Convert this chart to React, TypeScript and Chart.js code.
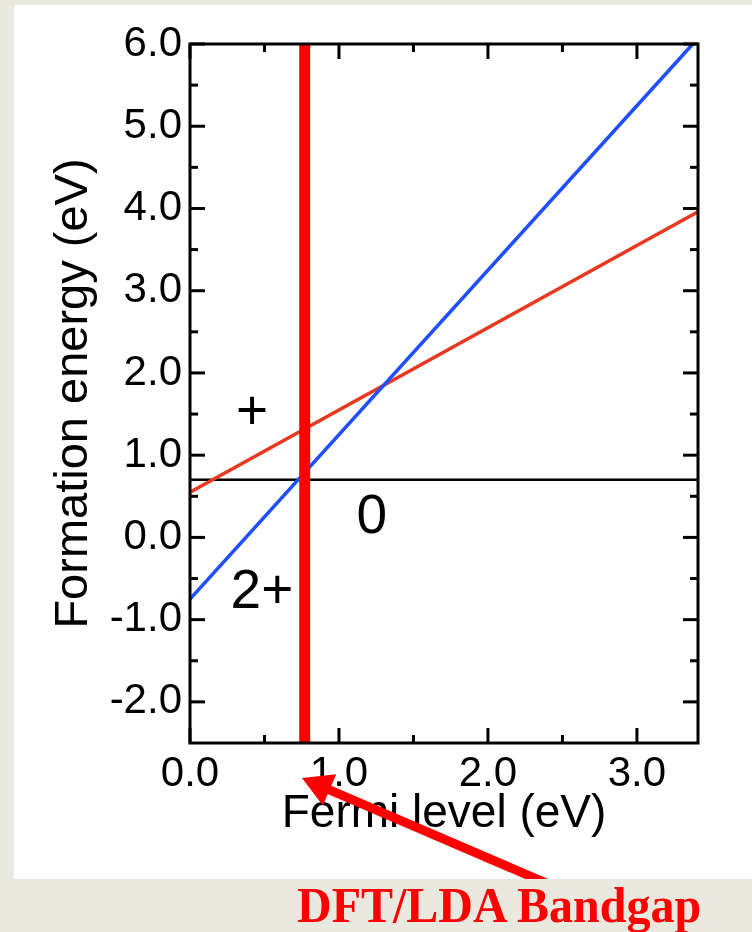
import React, { useEffect, useRef } from "react";
import { Chart, registerables } from "chart.js";

Chart.register(...registerables);

// ---- data ----
const X_MIN = 0;
const X_MAX = 3.41;
const Y_MIN = -2.5;
const Y_MAX = 6.0;

const xMajorTicks = [0, 1, 2, 3];
const xMinorTicks = [0.5, 1.5, 2.5];
const yMajorTicks = [-2, -1, 0, 1, 2, 3, 4, 5, 6];
const yMinorTicks = [-1.5, -0.5, 0.5, 1.5, 2.5, 3.5, 4.5, 5.5];

// 2+ charge state (blue)
const blueX = [0, 3.375];
const blueY = [-0.75, 6.0];
// + charge state (red)
const redX = [0, 3.41];
const redY = [0.55, 3.96];
// neutral 0 state (black)
const neutralX = [0, 3.41];
const neutralY = [0.7, 0.7];
// DFT/LDA band gap marker
const gapX = [0.77, 0.77];
const gapY = [-2.5, 6.0];

// charge-state labels
const chargeLabels = ["+", "0", "2+"];
const chargeLabelX = [0.416, 1.221, 0.483];
const chargeLabelY = [1.32, 0.055, -0.858];

const xTitle = "Fermi level (eV)";
const yTitle = "Formation energy (eV)";
const annotation = "DFT/LDA Bandgap";

const SANS = "'Liberation Sans', Arial, Helvetica, sans-serif";

const pts = (xs: number[], ys: number[]) => xs.map((x, i) => ({ x, y: ys[i] }));

const framePlugin = {
  id: "frameTicks",
  afterDatasetsDraw(chart: any) {
    const { ctx, scales } = chart;
    const xs = scales.x;
    const ys = scales.y;
    ctx.save();
    ctx.fillStyle = "#000";
    ctx.font = `55px ${SANS}`;
    ctx.textAlign = "center";
    ctx.textBaseline = "alphabetic";
    chargeLabels.forEach((t, i) => {
      ctx.fillText(t, xs.getPixelForValue(chargeLabelX[i]), ys.getPixelForValue(chargeLabelY[i]));
    });
    ctx.restore();
  },
  afterDraw(chart: any) {
    const { ctx, chartArea, scales } = chart;
    const { left, right, top, bottom } = chartArea;
    const xs = scales.x;
    const ys = scales.y;
    ctx.save();
    ctx.strokeStyle = "#000";
    ctx.lineWidth = 3;
    ctx.lineCap = "butt";
    const MAJ = 15;
    const MIN = 8;
    const tick = (x1: number, y1: number, x2: number, y2: number) => {
      ctx.beginPath();
      ctx.moveTo(x1, y1);
      ctx.lineTo(x2, y2);
      ctx.stroke();
    };
    xMajorTicks.forEach((v) => {
      const p = xs.getPixelForValue(v);
      tick(p, bottom, p, bottom - MAJ);
      tick(p, top, p, top + MAJ);
    });
    xMinorTicks.forEach((v) => {
      const p = xs.getPixelForValue(v);
      tick(p, bottom, p, bottom - MIN);
      tick(p, top, p, top + MIN);
    });
    yMajorTicks.forEach((v) => {
      const p = ys.getPixelForValue(v);
      tick(left, p, left + MAJ, p);
      tick(right, p, right - MAJ, p);
    });
    yMinorTicks.forEach((v) => {
      const p = ys.getPixelForValue(v);
      tick(left, p, left + MIN, p);
      tick(right, p, right - MIN, p);
    });
    ctx.lineJoin = "miter";
    ctx.strokeRect(left, top, right - left, bottom - top);
    ctx.restore();
  },
};

function ChartCanvas() {
  const ref = useRef<HTMLCanvasElement | null>(null);
  useEffect(() => {
    if (!ref.current) return;
    const chart = new Chart(ref.current, {
      type: "scatter",
      data: {
        datasets: [
          {
            label: "gap",
            data: pts(gapX, gapY),
            showLine: true,
            borderColor: "#ff0000",
            borderWidth: 11,
            pointRadius: 0,
            borderCapStyle: "butt",
          },
          {
            label: "2+",
            data: pts(blueX, blueY),
            showLine: true,
            borderColor: "#1f4fff",
            borderWidth: 3.6,
            pointRadius: 0,
          },
          {
            label: "+",
            data: pts(redX, redY),
            showLine: true,
            borderColor: "#e8381f",
            borderWidth: 3.6,
            pointRadius: 0,
          },
          {
            label: "0",
            data: pts(neutralX, neutralY),
            showLine: true,
            borderColor: "#000000",
            borderWidth: 2.5,
            pointRadius: 0,
          },
        ],
      },
      options: {
        responsive: false,
        animation: false,
        devicePixelRatio: 1,
        layout: { padding: { left: 0, top: 44, right: 54, bottom: 0 } },
        plugins: { legend: { display: false }, tooltip: { enabled: false } },
        scales: {
          x: {
            type: "linear",
            min: X_MIN,
            max: X_MAX,
            grid: { display: false, drawTicks: false },
            border: { display: false },
            afterBuildTicks: (s: any) => {
              s.ticks = xMajorTicks.map((v) => ({ value: v }));
            },
            afterFit: (s: any) => {
              s.height = 189;
            },
            ticks: {
              color: "#000",
              padding: 6,
              maxRotation: 0,
              autoSkip: false,
              font: { family: SANS, size: 42 },
              callback: (v: any) => Number(v).toFixed(1),
            },
            title: {
              display: true,
              text: xTitle,
              color: "#000",
              font: { family: SANS, size: 46 },
              padding: { top: 0, bottom: 90 },
            },
          },
          y: {
            type: "linear",
            min: Y_MIN,
            max: Y_MAX,
            grid: { display: false, drawTicks: false },
            border: { display: false },
            afterBuildTicks: (s: any) => {
              s.ticks = yMajorTicks.map((v) => ({ value: v }));
            },
            afterFit: (s: any) => {
              s.width = 190;
            },
            ticks: {
              color: "#000",
              padding: 8,
              autoSkip: false,
              font: { family: SANS, size: 42 },
              callback: (v: any) => Number(v).toFixed(1),
            },
            title: {
              display: true,
              text: yTitle,
              color: "#000",
              font: { family: SANS, size: 47 },
              padding: { top: 46, bottom: 0 },
            },
          },
        },
      },
      plugins: [framePlugin],
    } as any);
    return () => chart.destroy();
  }, []);
  return (
    <canvas
      ref={ref}
      width={752}
      height={932}
      style={{ position: "absolute", left: 0, top: 0, width: 752, height: 932 }}
    />
  );
}

export default function App() {
  // arrow geometry (page pixels)
  const tip = { x: 302, y: 778 };
  const tail = { x: 560, y: 889 };
  const dx = tail.x - tip.x;
  const dy = tail.y - tip.y;
  const len = Math.hypot(dx, dy);
  const ux = dx / len;
  const uy = dy / len;
  const px = uy;
  const py = -ux;
  const headLen = 30;
  const headHalf = 17;
  const bx = tip.x + ux * headLen;
  const by = tip.y + uy * headLen;
  const head = `${tip.x},${tip.y} ${bx + px * headHalf},${by + py * headHalf} ${bx - px * headHalf},${by - py * headHalf}`;

  return (
    <div
      style={{
        position: "absolute",
        left: 0,
        top: 0,
        width: 752,
        height: 932,
        background: "#eae9e0",
        overflow: "hidden",
      }}
    >
      <div
        style={{
          position: "absolute",
          left: 14,
          top: 5,
          width: 738,
          height: 874,
          background: "#ffffff",
        }}
      />
      <ChartCanvas />
      <svg
        width={752}
        height={932}
        style={{ position: "absolute", left: 0, top: 0 }}
      >
        <defs>
          <clipPath id="panelClip">
            <rect x={0} y={0} width={752} height={879} />
          </clipPath>
        </defs>
        <g clipPath="url(#panelClip)">
          <line
            x1={bx - ux * 2}
            y1={by - uy * 2}
            x2={tail.x}
            y2={tail.y}
            stroke="#ff0000"
            strokeWidth={9}
          />
          <polygon points={head} fill="#ff0000" />
        </g>
      </svg>
      <div
        style={{
          position: "absolute",
          left: 297,
          top: 880,
          fontFamily: "'Liberation Serif', 'Times New Roman', serif",
          fontWeight: "bold",
          fontSize: 50,
          lineHeight: 1,
          color: "#ff0000",
          whiteSpace: "nowrap",
          transform: "scaleX(0.96)",
          transformOrigin: "0 0",
        }}
      >
        {annotation}
      </div>
    </div>
  );
}
